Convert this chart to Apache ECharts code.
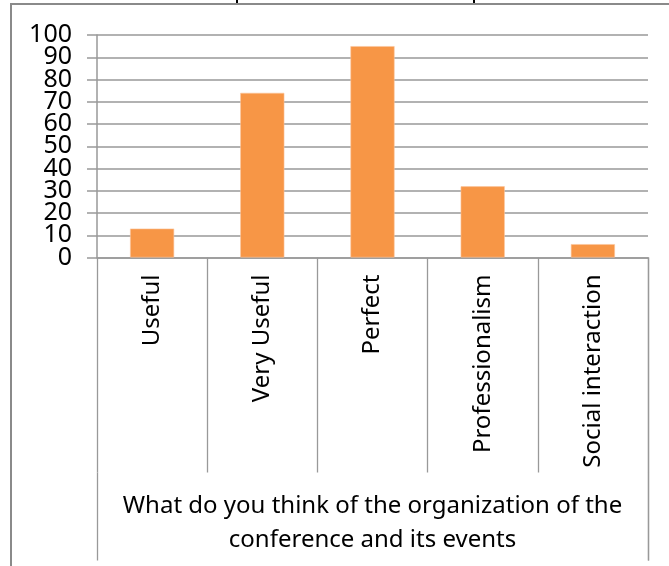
<!DOCTYPE html>
<html>
<head>
<meta charset="utf-8">
<script src="https://cdn.jsdelivr.net/npm/echarts@6/dist/echarts.min.js"></script>
<style>
html,body{margin:0;padding:0;background:#fff;}
#chart{width:669px;height:566px;}
</style>
</head>
<body>
<div id="chart"></div>
<script>
const categories = ['Useful', 'Very Useful', 'Perfect', 'Professionalism', 'Social interaction'];
const values = [13, 74, 95, 32, 6];
const groupLabel = ['What do you think of the organization of the\nconference and its events'];
const yTicks = { min: 0, max: 100, interval: 10 };

const FONT = 'Noto Sans';
const GRAY = '#999999';
const TICK1 = 215, TICK2 = 88;
const GRID = { left: 97, right: 21, top: 35, bottom: 308.5 };
const W = 669, H = 566;

const yLabelStyle = { margin: 25, fontFamily: FONT, fontSize: 25, color: '#000', showMinLabel: true, showMaxLabel: true, hideOverlap: false };

const baseGraphic = [
  { type: 'rect', shape: { x: 11, y: 4, width: 700, height: 600 }, style: { fill: 'none', stroke: '#8a8a8a', lineWidth: 2 }, silent: true },
  { type: 'rect', shape: { x: 236, y: 0, width: 2, height: 3 }, style: { fill: '#000' }, silent: true },
  { type: 'rect', shape: { x: 473, y: 0, width: 2, height: 3 }, style: { fill: '#000' }, silent: true }
];

const chart = echarts.init(document.getElementById('chart'), null, { renderer: 'canvas' });
chart.setOption({
  animation: false,
  backgroundColor: '#fff',
  graphic: baseGraphic,
  grid: Object.assign({ containLabel: false }, GRID),
  xAxis: [
    {
      type: 'category',
      data: categories,
      position: 'bottom',
      axisLine: { show: true, onZero: false, lineStyle: { color: GRAY, width: 1.5 } },
      axisTick: { show: true, interval: 0, length: TICK1, lineStyle: { color: GRAY, width: 1.3 } },
      axisLabel: {
        interval: 0, rotate: 90, margin: 17,
        fontFamily: FONT, fontSize: 24, color: '#000'
      },
      splitLine: { show: false }
    },
    {
      type: 'category',
      data: groupLabel,
      position: 'bottom',
      offset: TICK1,
      axisLine: { show: true, onZero: false, lineStyle: { color: GRAY, width: 0, opacity: 0 } },
      axisTick: { show: true, interval: 0, length: TICK2, lineStyle: { color: GRAY, width: 1.3 } },
      axisLabel: {
        interval: 0, margin: 17, align: 'center',
        fontFamily: FONT, fontSize: 24, lineHeight: 34, color: '#000'
      }
    }
  ],
  yAxis: [
    {
      type: 'value',
      position: 'left',
      min: yTicks.min, max: yTicks.max, interval: yTicks.interval,
      axisLine: { show: true, lineStyle: { color: GRAY, width: 1.5 } },
      axisTick: { show: true, inside: false, length: 10, lineStyle: { color: GRAY, width: 1.5 } },
      axisLabel: Object.assign({}, yLabelStyle, {
        formatter: v => (v % (2 * yTicks.interval) === yTicks.interval ? String(v) : '')
      }),
      splitLine: { show: true, lineStyle: { color: GRAY, width: 1.5 } }
    },
    {
      type: 'value',
      position: 'left',
      min: yTicks.min, max: yTicks.max, interval: 2 * yTicks.interval,
      axisLine: { show: false },
      axisTick: { show: false },
      axisLabel: yLabelStyle,
      splitLine: { show: false }
    }
  ],
  series: [{
    type: 'bar',
    data: values,
    xAxisIndex: 0,
    yAxisIndex: 0,
    barWidth: '40%',
    itemStyle: { color: '#F79646', borderColor: '#FBC49C', borderWidth: 0.6 }
  }]
});

// right-hand boundary line of the category axis (the tick ECharts omits at the end)
const n = categories.length;
let xRight = NaN, yZero = NaN;
try {
  const xFirst = chart.convertToPixel({ xAxisIndex: 0 }, 0);
  const xLast = chart.convertToPixel({ xAxisIndex: 0 }, n - 1);
  const band = (xLast - xFirst) / (n - 1);
  xRight = xLast + band / 2;
  yZero = chart.convertToPixel({ yAxisIndex: 0 }, 0);
} catch (e) {}
if (!isFinite(xRight)) xRight = W - GRID.right;
if (!isFinite(yZero)) yZero = H - GRID.bottom;
xRight = Math.round(xRight) + 0.5;
chart.setOption({
  graphic: baseGraphic.concat([
    { type: 'line', z: 100, shape: { x1: xRight, y1: yZero, x2: xRight, y2: yZero + TICK1 + TICK2 }, style: { stroke: GRAY, lineWidth: 1.3 }, silent: true }
  ])
});
</script>
</body>
</html>
